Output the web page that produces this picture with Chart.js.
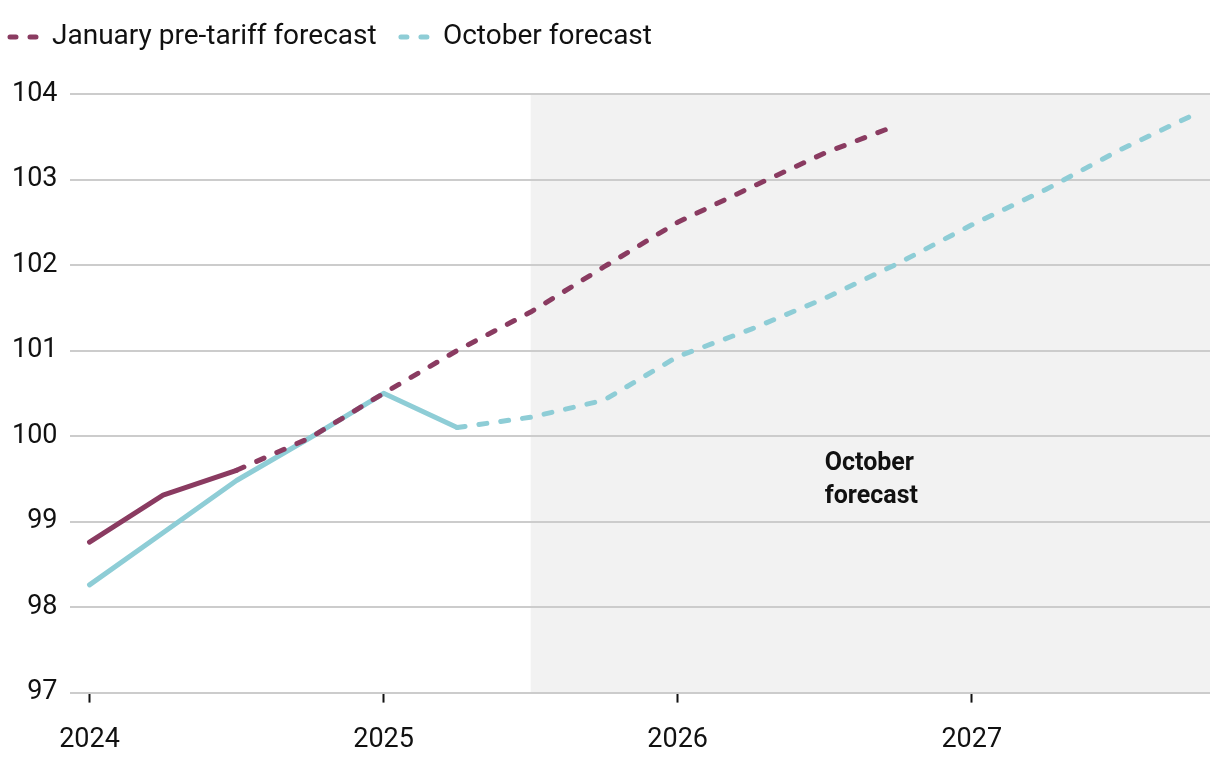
<!DOCTYPE html>
<html>
<head>
<meta charset="utf-8">
<script src="https://cdn.jsdelivr.net/npm/chart.js@4"></script>
<style>
  html,body{margin:0;padding:0;background:#fff;}
  #wrap{width:1220px;height:760px;}
</style>
</head>
<body>
<div id="wrap"><canvas id="chart" width="1220" height="760"></canvas></div>
<script>
/* Quarters (decimal years) */
const quarters = [2024, 2024.25, 2024.5, 2024.75, 2025, 2025.25, 2025.5, 2025.75,
                  2026, 2026.25, 2026.5, 2026.75, 2027, 2027.25, 2027.5, 2027.75];
const januaryValues = [98.76, 99.31, 99.6, 99.98, 100.5, 101.0, 101.45, 101.98,
                       102.5, 102.91, 103.31, 103.64];
const octoberValues = [98.26, 98.87, 99.48, 99.98, 100.5, 100.1, 100.22, 100.42,
                       100.93, 101.25, 101.61, 102.02, 102.47, 102.88, 103.34, 103.75];
const januaryLastActual = 2;   // dashed after this point
const octoberLastActual = 5;
const yearTicks = [2024, 2025, 2026, 2027];
const yTicks = [97, 98, 99, 100, 101, 102, 103, 104];
const seriesNames = ["January pre-tariff forecast", "October forecast"];
const shadeFrom = 2025.5;
const noteLines = ["October", "forecast"];

const MAROON = "#8a3b61";
const TEAL = "#8ecdd6";
const FONT = "'Roboto', sans-serif";
const DASH = [8, 14];

const toPoints = vals => vals.map((v, i) => ({x: quarters[i], y: v}));

/* extra space under the legend */
const legendGap = {
  id: "legendGap",
  beforeInit(chart){
    const fit = chart.legend.fit;
    chart.legend.fit = function(){
      fit.call(this);
      this.height += 33;
    };
  }
};

/* Grey shading + note */
const shadePlugin = {
  id: "shade",
  beforeDraw(chart){
    const {ctx, chartArea, scales:{x}} = chart;
    ctx.save();
    ctx.fillStyle = "#f2f2f2";
    const left = x.getPixelForValue(shadeFrom);
    ctx.fillRect(left, chartArea.top, chartArea.right - left, chartArea.bottom - chartArea.top);
    ctx.restore();
  },
  afterDatasetsDraw(chart){
    const {ctx, scales:{x, y}} = chart;
    ctx.save();
    ctx.fillStyle = "#111";
    ctx.font = "bold 25px " + FONT;
    ctx.textBaseline = "middle";
    ctx.fillText(noteLines[0], x.getPixelForValue(2026.5), y.getPixelForValue(99.68));
    ctx.fillText(noteLines[1], x.getPixelForValue(2026.5), y.getPixelForValue(99.29));
    ctx.restore();
  }
};

const dashAfter = idx => ctx => ctx.p0DataIndex < idx ? [] : DASH;

new Chart(document.getElementById("chart"), {
  type: "line",
  data: {
    datasets: [
      {label: seriesNames[0], data: toPoints(januaryValues), borderColor: MAROON,
       borderWidth: 5, borderCapStyle: "round", borderJoinStyle: "round",
       pointRadius: 0, borderDash: DASH, segment: {borderDash: dashAfter(januaryLastActual)}},
      {label: seriesNames[1], data: toPoints(octoberValues), borderColor: TEAL,
       borderWidth: 5, borderCapStyle: "round", borderJoinStyle: "round",
       pointRadius: 0, borderDash: DASH, segment: {borderDash: dashAfter(octoberLastActual)}}
    ]
  },
  options: {
    responsive: false,
    animation: false,
    layout: {padding: {left: 0, right: 10, top: 13, bottom: 0}},
    plugins: {
      tooltip: {enabled: false},
      legend: {
        align: "start",
        labels: {
          color: "#111",
          font: {family: FONT, size: 28},
          usePointStyle: true,
          pointStyleWidth: 28,
          boxHeight: 10,
          padding: 10,
          // en space after each label widens the gap between items
          generateLabels: chart => chart.data.datasets.map((ds, i) => ({
            text: ds.label + "\u2002", datasetIndex: i, pointStyle: "line",
            strokeStyle: ds.borderColor, fillStyle: ds.borderColor,
            lineWidth: 5, lineCap: "round", lineDash: [6, 14], fontColor: "#111"
          }))
        }
      }
    },
    scales: {
      x: {
        type: "linear",
        min: 2023.932,
        max: 2027.81,
        afterBuildTicks: axis => { axis.ticks = yearTicks.map(v => ({value: v})); },
        afterFit: axis => { axis.height -= 17; },
        grid: {drawOnChartArea: false, drawTicks: true, tickLength: 10, color: "#111", tickWidth: 2},
        border: {display: false},
        ticks: {color: "#111", font: {family: FONT, size: 27}, padding: 21, maxRotation: 0,
                callback: v => String(v)}
      },
      y: {
        min: 97,
        max: 104,
        afterBuildTicks: axis => { axis.ticks = yTicks.map(v => ({value: v})); },
        grid: {color: "#cccccc", lineWidth: 2, drawTicks: false},
        border: {display: false},
        ticks: {color: "#111", font: {family: FONT, size: 27}, padding: 12}
      }
    }
  },
  plugins: [legendGap, shadePlugin]
});
</script>
</body>
</html>
